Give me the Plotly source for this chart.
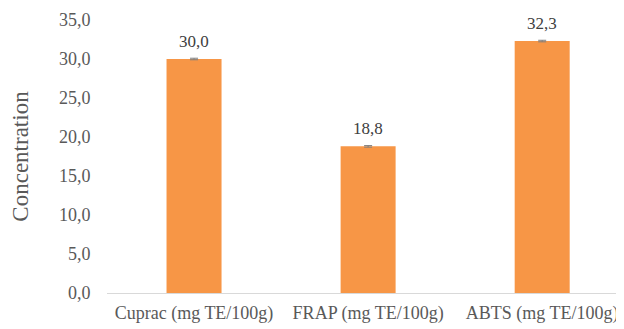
import plotly.graph_objects as go

categories = ["Cuprac (mg TE/100g)", "FRAP (mg TE/100g)", "ABTS (mg TE/100g)"]
values = [30.0, 18.8, 32.3]
errors = [0.1, 0.1, 0.1]
labels = ["30,0", "18,8", "32,3"]
yticks = [0, 5, 10, 15, 20, 25, 30, 35]

xpos = list(range(len(categories)))

fig = go.Figure()
fig.add_trace(go.Bar(
    x=xpos, y=values,
    marker=dict(color="#F79646", line=dict(width=0)),
    width=0.316,
    error_y=dict(type="data", array=errors, color="#7f7f7f", thickness=1, width=4),
))
for xi, v, lab in zip(xpos, values, labels):
    fig.add_annotation(x=xi, y=v, text=lab, showarrow=False, yanchor="middle", yshift=18,
                       font=dict(family="Liberation Serif", size=17, color="#404040"))
fig.update_layout(
    width=616, height=321,
    margin=dict(l=99, r=0, t=12, b=36, autoexpand=False),
    plot_bgcolor="white", paper_bgcolor="white",
    separators=", ",
    showlegend=False,
    font=dict(family="Liberation Serif", color="#595959"),
)
fig.update_xaxes(
    tickvals=xpos, ticktext=categories,
    range=[-0.5, 2.47], automargin=False,
    showline=True, linecolor="#d9d9d9", linewidth=1,
    ticks="outside", ticklen=3, tickcolor="rgba(0,0,0,0)",
    tickfont=dict(size=18, color="#595959"),
    showgrid=False, zeroline=False,
)
fig.update_yaxes(
    range=[0, 35], tickvals=yticks, tickformat=".1f", automargin=False,
    showgrid=False, zeroline=False, showline=False,
    ticks="outside", ticklen=12, tickcolor="rgba(0,0,0,0)",
    tickfont=dict(size=18, color="#595959"),
    title=dict(text="Concentration", font=dict(size=23, color="#595959"), standoff=30),
)
fig.write_html("out.html")
